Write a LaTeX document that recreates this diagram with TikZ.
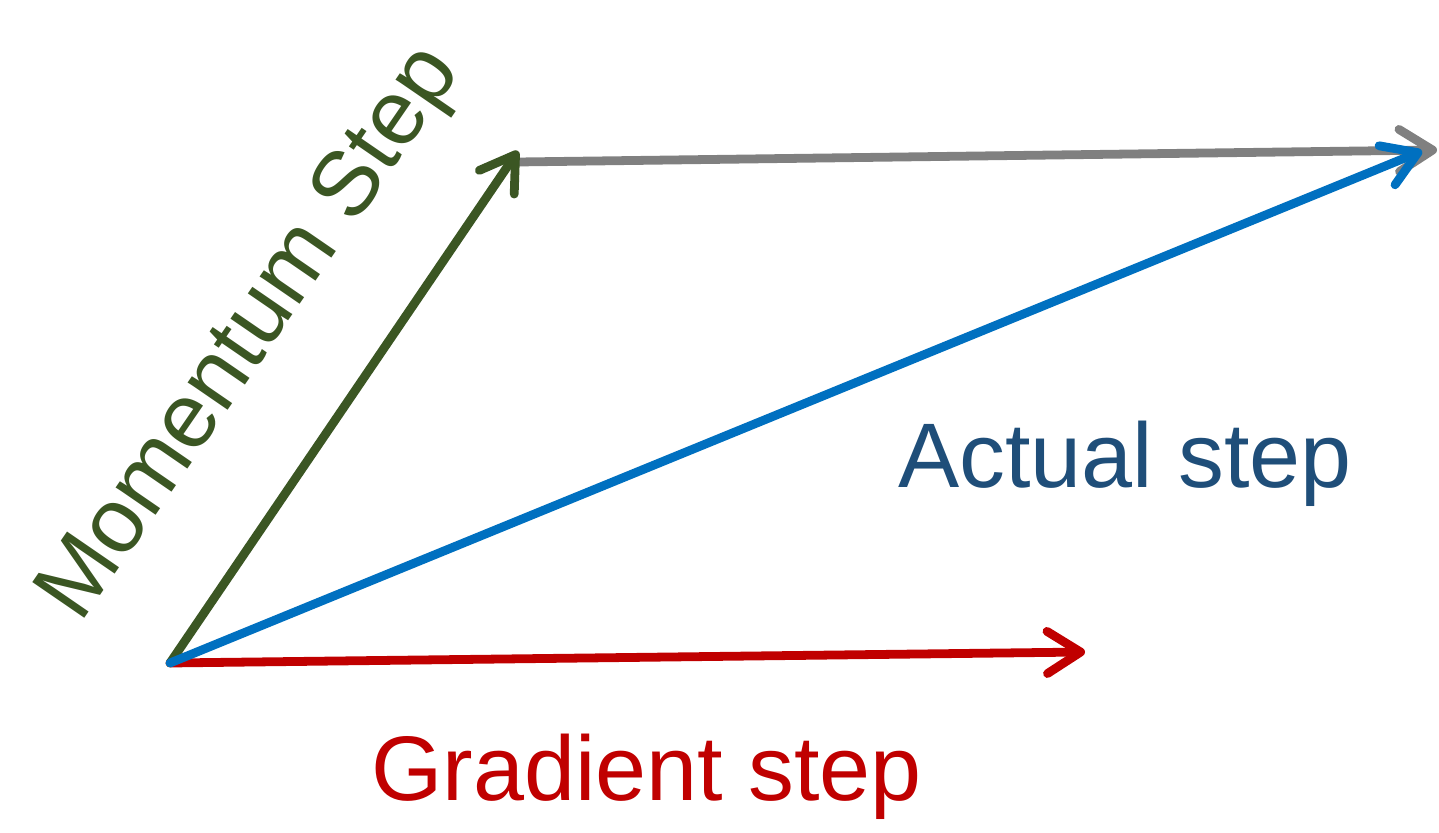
\documentclass[tikz,border=0pt]{standalone}
\usepackage{fontspec}
\setmainfont{Liberation Sans}
\usetikzlibrary{arrows.meta}

\definecolor{momgreen}{HTML}{3B5623}
\definecolor{actblue}{HTML}{0070C0}
\definecolor{actlabel}{HTML}{1F4E79}
\definecolor{gradred}{HTML}{C00000}
\definecolor{sumgray}{HTML}{808080}

\begin{document}
\begin{tikzpicture}[x=0.02cm, y=0.02cm,
    vec/.style={line width=5pt, line cap=round,
      -{Straight Barb[length=19pt, width=24pt, round]}},
    lbl/.style={inner sep=0pt, font=\fontsize{52.2}{60}\selectfont}]
  \useasboundingbox (0, 0) rectangle (1439, 832);

  \coordinate (O)  at (170, 169);
  \coordinate (M)  at (518, 681);
  \coordinate (G0) at (518, 670);
  \coordinate (T)  at (1437, 682);
  \coordinate (A)  at (1422, 681);
  \coordinate (R)  at (1085, 180);

  % gradient and momentum
  \draw[vec, gradred]  (O) -- (R);
  \draw[vec, sumgray]  (G0) -- (T);
  \draw[vec, momgreen] (O) -- (M);
  \draw[vec, actblue]  (O) -- (A);

  \node[lbl, anchor=base west, text=gradred] (gradlbl) at (371, 32) {Gradient step};
  \node[lbl, anchor=base west, text=actlabel] (actlbl) at (898, 344) {Actual step};
  \node[lbl, rotate=55.5, text=momgreen] (momlbl) at (252, 497) {Momentum Step};
\end{tikzpicture}
\end{document}
